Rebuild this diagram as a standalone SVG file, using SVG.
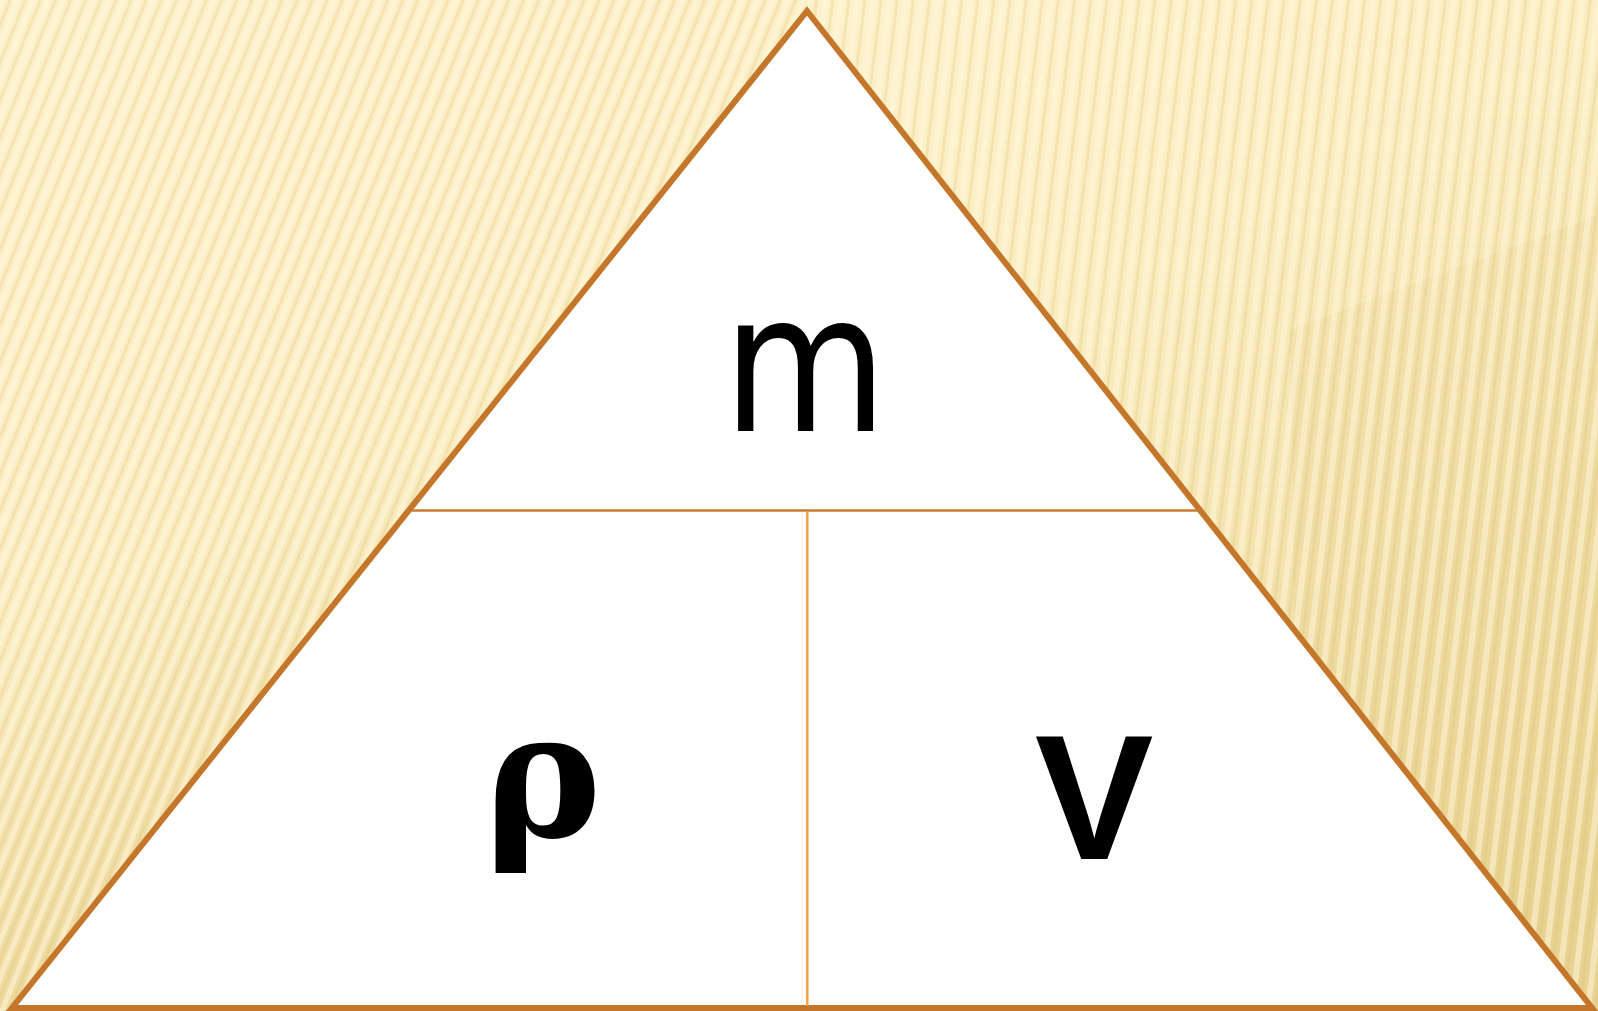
<svg xmlns="http://www.w3.org/2000/svg" width="1598" height="1011" viewBox="0 0 1598 1011">
  <style>
    .edge { fill: #ffffff; stroke: #C4772B; stroke-width: 6; stroke-linejoin: miter; }
    .hdiv { stroke: #C87B33; stroke-width: 2.5; fill: none; }
    .vdiv { stroke: #EFA446; stroke-width: 2.5; fill: none; }
    .lbl { fill: #000000; }
    .sans { font-family: "DejaVu Sans", sans-serif; }
    .bsans { font-family: "Liberation Sans", sans-serif; font-weight: bold; }
    .bserif { font-family: "DejaVu Serif", serif; font-weight: bold; }
  </style>
  <defs>
    <linearGradient id="bgL" x1="0" y1="0" x2="0.35" y2="1">
      <stop offset="0" stop-color="#FDF1CA"/>
      <stop offset="0.55" stop-color="#FBEDC2"/>
      <stop offset="1" stop-color="#EAD393"/>
    </linearGradient>
    <linearGradient id="bgR" x1="0.2" y1="0" x2="0.6" y2="1">
      <stop offset="0" stop-color="#FDF1CA"/>
      <stop offset="0.3" stop-color="#FBEDC1"/>
      <stop offset="1" stop-color="#EAD596"/>
    </linearGradient>
    <pattern id="stripesL" width="14" height="40" patternUnits="userSpaceOnUse" patternTransform="rotate(22)">
      <rect x="0" y="0" width="5" height="40" fill="#FFF8DD" opacity="0.55"/>
      <rect x="8" y="0" width="3" height="40" fill="#D9BE72" opacity="0.25"/>
    </pattern>
    <pattern id="stripesR" width="16" height="40" patternUnits="userSpaceOnUse" patternTransform="rotate(7)">
      <rect x="0" y="0" width="6" height="40" fill="#FFF8DD" opacity="0.5"/>
      <rect x="9" y="0" width="3" height="40" fill="#D9BE72" opacity="0.25"/>
    </pattern>
  </defs>

  <g id="background">
    <rect x="0" y="0" width="807" height="1011" fill="url(#bgL)"/>
    <rect x="807" y="0" width="791" height="1011" fill="url(#bgR)"/>
    <polygon points="1290,330 1598,215 1598,1011 1300,1011" fill="#E2C97F" opacity="0.18"/>
    <rect x="0" y="0" width="807" height="1011" fill="url(#stripesL)"/>
    <rect x="807" y="0" width="791" height="1011" fill="url(#stripesR)"/>
  </g>

  <g id="triangle">
    <polygon class="edge" points="807,11 1592,1008 12,1008"/>
  </g>

  <g id="connectors">
    <line class="hdiv" x1="412" y1="510.5" x2="1203" y2="510.5"/>
    <line class="vdiv" x1="807.3" y1="511" x2="807.3" y2="1006"/>
  </g>

  <g id="node-mass">
    <text class="lbl sans" x="805" y="431" text-anchor="middle" font-size="192" transform="translate(805,0) scale(0.88,1) translate(-805,0)">m</text>
  </g>

  <g id="node-density">
    <text class="lbl bserif" x="543" y="836" text-anchor="middle" font-size="176">ρ</text>
  </g>

  <g id="node-volume">
    <text class="lbl bsans" x="1094" y="859" text-anchor="middle" font-size="178">V</text>
  </g>
</svg>
